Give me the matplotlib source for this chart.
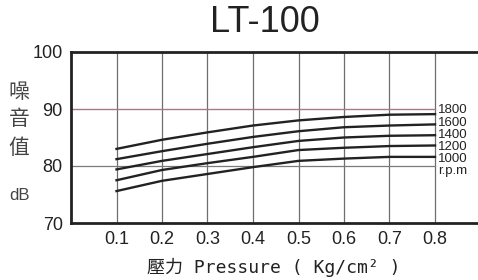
import matplotlib
matplotlib.use("Agg")
import matplotlib.pyplot as plt

pressure = [0.1, 0.2, 0.3, 0.4, 0.5, 0.6, 0.7, 0.8]
rpm_labels = ["1800", "1600", "1400", "1200", "1000"]
noise_1800 = [83.0, 84.6, 85.9, 87.1, 88.0, 88.6, 89.0, 89.1]
noise_1600 = [81.2, 82.6, 83.9, 85.1, 86.1, 86.8, 87.1, 87.3]
noise_1400 = [79.4, 80.9, 82.1, 83.3, 84.4, 85.0, 85.3, 85.4]
noise_1200 = [77.5, 79.3, 80.5, 81.6, 82.8, 83.2, 83.5, 83.6]
noise_1000 = [75.6, 77.4, 78.6, 79.8, 80.9, 81.3, 81.6, 81.6]
series = [noise_1800, noise_1600, noise_1400, noise_1200, noise_1000]
x_ticks = [0.1, 0.2, 0.3, 0.4, 0.5, 0.6, 0.7, 0.8]
x_tick_labels = ["0.1", "0.2", "0.3", "0.4", "0.5", "0.6", "0.7", "0.8"]
y_ticks = [70, 80, 90, 100]
y_tick_labels = ["70", "80", "90", "100"]

fam = ["Liberation Sans", "Noto Sans CJK TC", "DejaVu Sans"]
plt.rcParams['font.family'] = fam

fig = plt.figure(figsize=(4.78, 2.80), dpi=100)
ax = fig.add_axes([71/478, 1-223/280, 1-71/478, (223-52)/280])
ax.set_xlim(0, 407/455)
ax.set_ylim(70, 100)

for xt in x_ticks:
    ax.axvline(xt, color="#6e6e6e", lw=0.9, zorder=1)
ax.plot([0, 0.8], [90, 90], color="#a87888", lw=1.0, zorder=1)
ax.plot([0, 0.8], [80, 80], color="#7a7a7a", lw=0.9, zorder=1)

for s in series:
    ax.plot(pressure, s, color="#222222", lw=1.7, zorder=3)

label_y = [89.8, 87.6, 85.4, 83.3, 81.2]
for lab, yv in zip(rpm_labels, label_y):
    ax.text(0.806, yv, lab, fontsize=9.5, va="center", ha="left", color="#222222")
ax.text(0.806, 79.1, "r.p.m", fontsize=9.5, va="center", ha="left", color="#222222")

for sp in ["top", "left", "bottom"]:
    ax.spines[sp].set_linewidth(2.0)
    ax.spines[sp].set_color("#222222")
ax.spines["right"].set_visible(False)

ax.set_xticks(x_ticks)
ax.set_xticklabels(x_tick_labels, fontsize=13, color="#222222")
ax.set_yticks(y_ticks)
ax.set_yticklabels(y_tick_labels, fontsize=13, color="#222222")
ax.tick_params(length=0, pad=6)

fig.text(265/478, 1-23/280, "LT-100", fontsize=26, ha="center", va="center", color="#222222")
for ch, yy in [("噪", 92), ("音", 119), ("值", 148)]:
    fig.text(19/478, 1-yy/280, ch, fontsize=15, ha="center", va="center",
             color="#444444", family=["Noto Sans CJK TC", "DejaVu Sans"], fontweight="light")
fig.text(19/478, 1-196/280, "dB", fontsize=12, ha="center", va="center", color="#444444")
fig.text(274/478, 1-267/280, "壓力 Pressure ( Kg/cm² )", fontsize=13,
         ha="center", va="center", color="#222222",
         family=["DejaVu Sans Mono", "Noto Sans CJK TC", "DejaVu Sans"])

fig.savefig("out.png", dpi=100)
